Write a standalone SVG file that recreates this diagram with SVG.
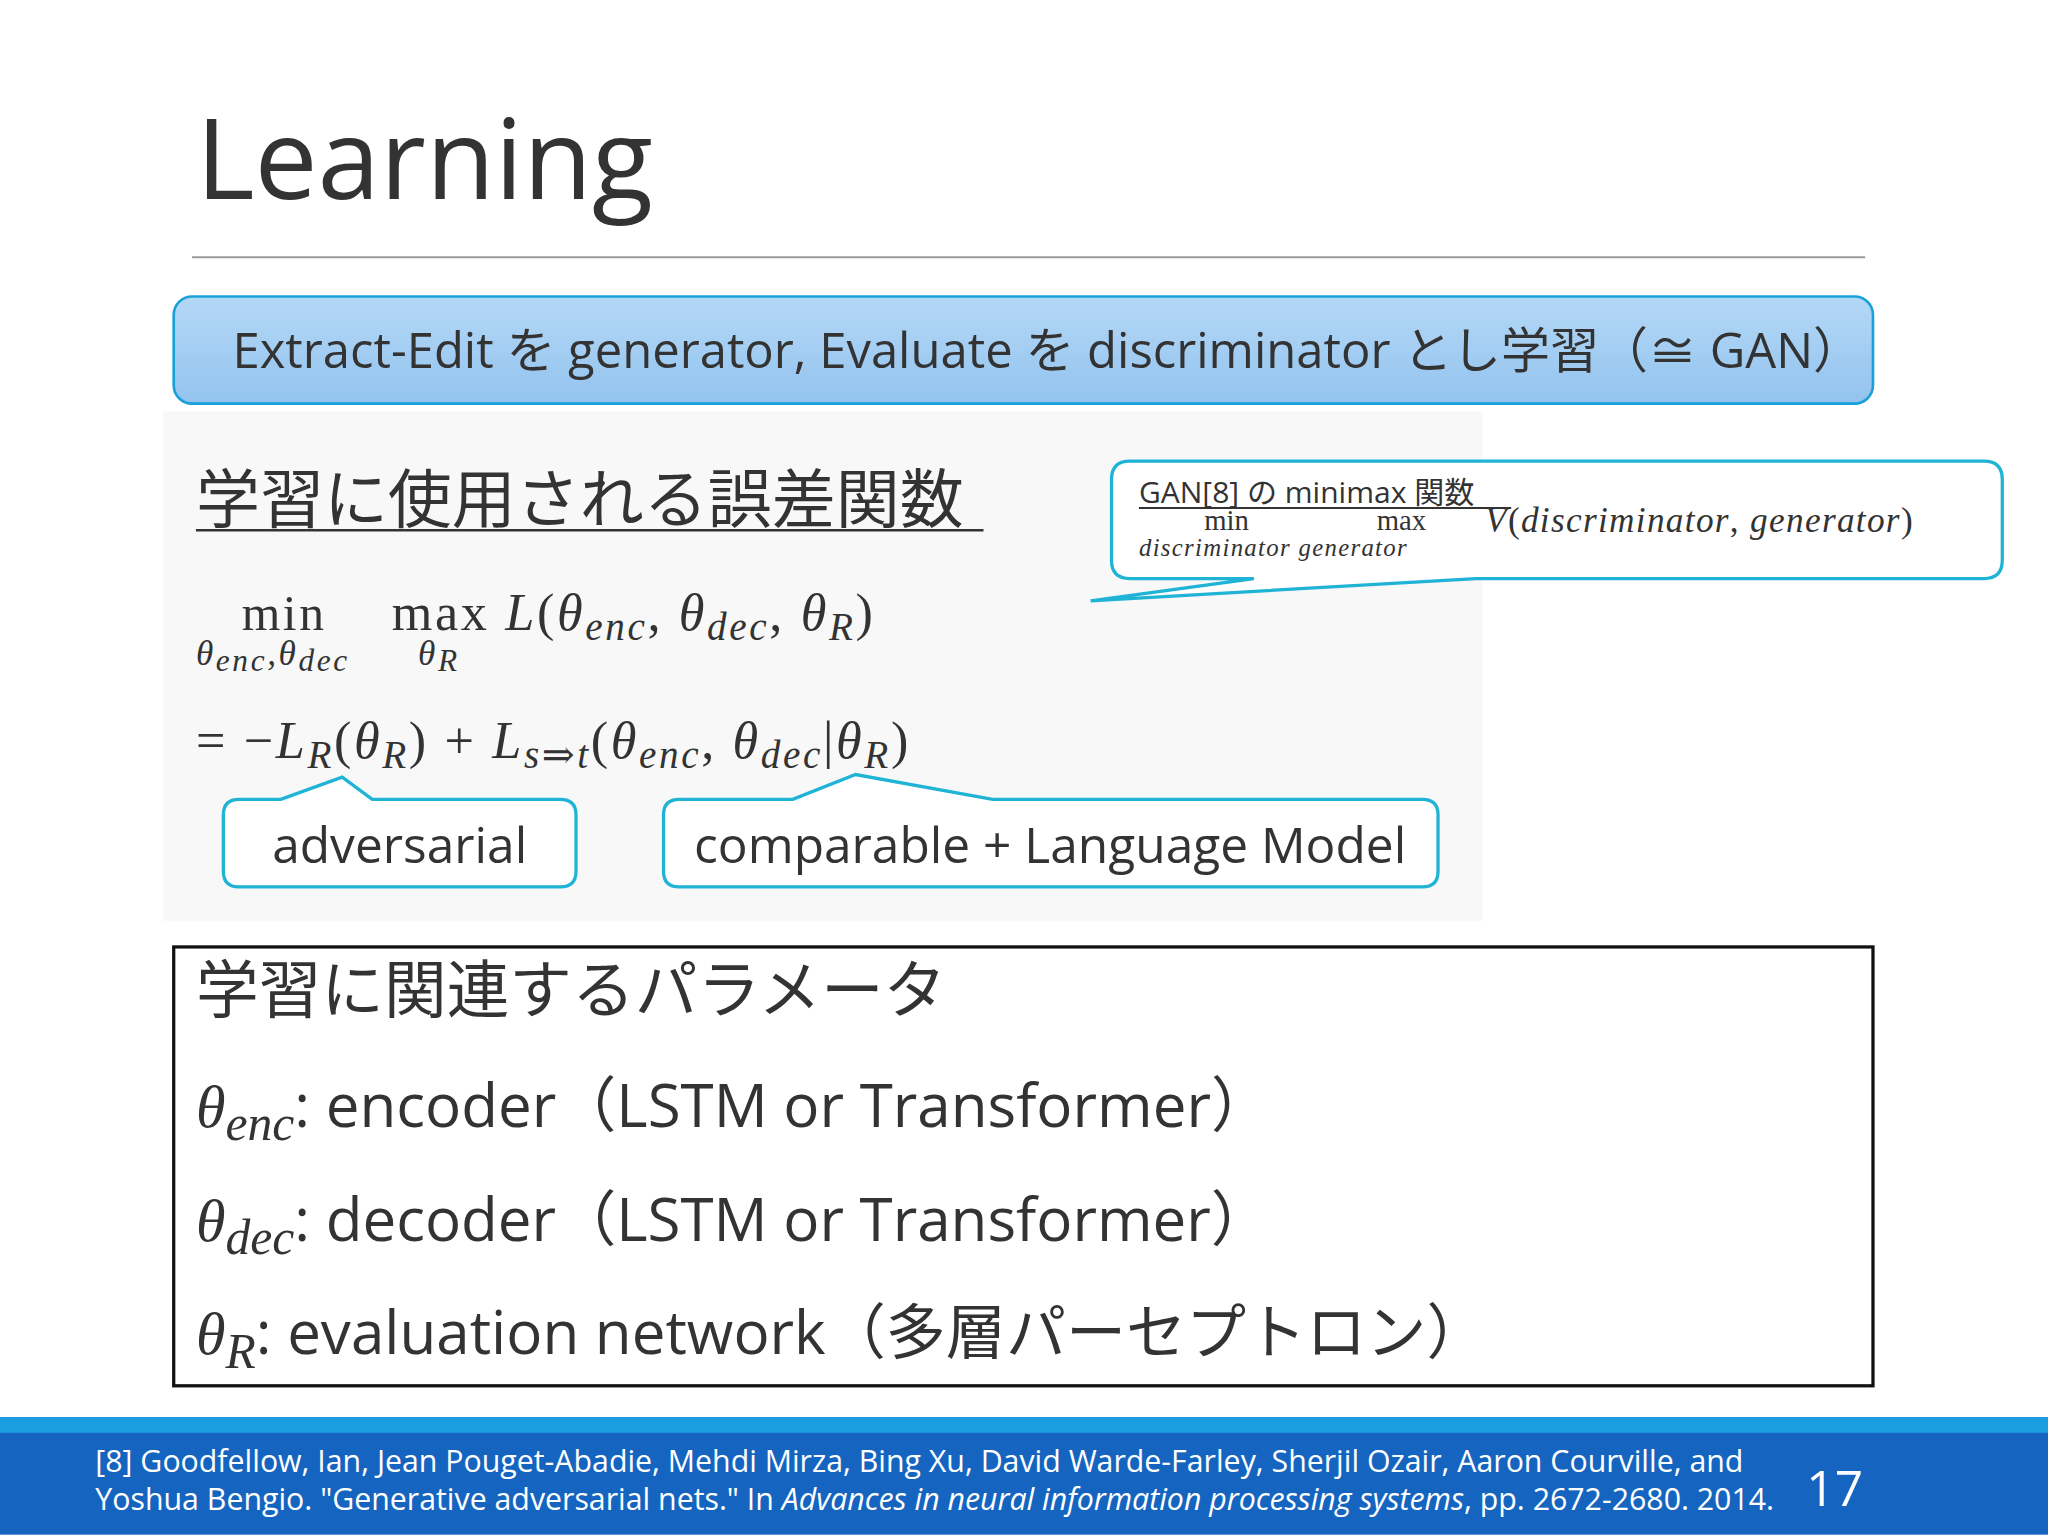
<svg xmlns="http://www.w3.org/2000/svg" width="2048" height="1536" viewBox="0 0 2048 1536">
<style>
.s{font-family:"Open Sans","Noto Sans CJK JP",sans-serif;fill:#333}
.m{font-family:"Liberation Serif","DejaVu Serif",serif;fill:#333}
.i{font-style:italic}
.co{fill:#fff;stroke:#1fb3d6;stroke-width:2.5}
.f{font-family:"Open Sans","Noto Sans CJK JP",sans-serif;fill:#fff}
</style>
<defs><linearGradient id="g" x1="0" y1="0" x2="0" y2="1"><stop offset="0" stop-color="#b4d8f6"/><stop offset="1" stop-color="#93c3ef"/></linearGradient></defs>
<rect width="2048" height="1536" fill="#fff"/>
<g transform="scale(1.30612)">
<rect x="125" y="315" width="1010" height="390" fill="#f8f8f8"/>
<g id="title"><text class="s" x="150" y="152" font-size="86" fill="#404040">Learning</text>
<line x1="147" y1="197" x2="1428" y2="197" stroke="#999" stroke-width="1.5"/></g>
<g id="banner"><rect x="133" y="227" width="1301" height="82" rx="14" fill="url(#g)" stroke="#1aa0d8" stroke-width="2"/>
<text class="s" x="178" y="282" font-size="37.5">Extract-Edit を generator, Evaluate を discriminator とし学習（≅ GAN）</text></g>
<g id="heading"><text class="s" x="150" y="400" font-size="49">学習に使用される誤差関数</text>
<line x1="150" y1="406" x2="753" y2="406" stroke="#333" stroke-width="2"/></g>
<g id="formula" letter-spacing="2">
<text class="m" x="185" y="482" font-size="38">min</text>
<text class="m i" x="150" y="509" font-size="27">θ<tspan font-size="24" dy="5">enc</tspan><tspan dy="-5">,θ</tspan><tspan font-size="24" dy="5">dec</tspan></text>
<text class="m" x="300" y="482" font-size="40">max <tspan class="i">L</tspan>(<tspan class="i">θ</tspan><tspan class="i" font-size="30" dy="8">enc</tspan><tspan dy="-8">, </tspan><tspan class="i">θ</tspan><tspan class="i" font-size="30" dy="8">dec</tspan><tspan dy="-8">, </tspan><tspan class="i">θ</tspan><tspan class="i" font-size="30" dy="8">R</tspan><tspan dy="-8">)</tspan></text>
<text class="m i" x="320" y="509" font-size="27">θ<tspan font-size="24" dy="5">R</tspan></text>
<text class="m" x="150" y="580" font-size="40">= −<tspan class="i">L</tspan><tspan class="i" font-size="30" dy="8">R</tspan><tspan dy="-8">(</tspan><tspan class="i">θ</tspan><tspan class="i" font-size="30" dy="8">R</tspan><tspan dy="-8">) + </tspan><tspan class="i">L</tspan><tspan class="i" font-size="30" dy="8">s⇒t</tspan><tspan dy="-8">(</tspan><tspan class="i">θ</tspan><tspan class="i" font-size="30" dy="8">enc</tspan><tspan dy="-8">, </tspan><tspan class="i">θ</tspan><tspan class="i" font-size="30" dy="8">dec</tspan><tspan dy="-8">|</tspan><tspan class="i">θ</tspan><tspan class="i" font-size="30" dy="8">R</tspan><tspan dy="-8">)</tspan></text>
</g>
<g id="callout-gan">
<path class="co" d="M865,353 H1519 Q1533,353 1533,367 V429 Q1533,443 1519,443 H1130 L835,460 L960,443 H865 Q851,443 851,429 V367 Q851,353 865,353 Z"/>
<text class="s" x="872" y="385" font-size="23">GAN[8] の minimax 関数</text>
<line x1="872" y1="389" x2="1157" y2="389" stroke="#333" stroke-width="1.5"/>
<text class="m" x="922" y="406" font-size="22">min</text>
<text class="m" x="1054" y="406" font-size="22">max</text>
<text class="m i" x="872" y="426" font-size="19" letter-spacing="1">discriminator  generator</text>
<text class="m" x="1137" y="407" font-size="27" letter-spacing="1"><tspan class="i">V</tspan>(<tspan class="i">discriminator</tspan>, <tspan class="i">generator</tspan>)</text>
</g>
<g id="adversarial">
<path class="co" d="M183,612 H215 L262,595 L285,612 H429 Q441,612 441,624 V667 Q441,679 429,679 H183 Q171,679 171,667 V624 Q171,612 183,612 Z"/>
<text class="s" x="306" y="661" font-size="38" text-anchor="middle">adversarial</text></g>
<g id="comparable">
<path class="co" d="M520,612 H607 L655,593 L760,612 H1089 Q1101,612 1101,624 V667 Q1101,679 1089,679 H520 Q508,679 508,667 V624 Q508,612 520,612 Z"/>
<text class="s" x="804" y="661" font-size="38" text-anchor="middle">comparable + Language Model</text></g>
<g id="params">
<rect x="133" y="725" width="1301" height="336" fill="#fff" stroke="#111" stroke-width="2.5"/>
<text class="s" x="150" y="775" font-size="48">学習に関連するパラメータ</text>
<text class="s" x="150" y="863" font-size="46"><tspan class="m i">θ</tspan><tspan class="m i" font-size="38" dy="10">enc</tspan><tspan dy="-10">: encoder（LSTM or Transformer）</tspan></text>
<text class="s" x="150" y="950" font-size="46"><tspan class="m i">θ</tspan><tspan class="m i" font-size="38" dy="10">dec</tspan><tspan dy="-10">: decoder（LSTM or Transformer）</tspan></text>
<text class="s" x="150" y="1037" font-size="46"><tspan class="m i">θ</tspan><tspan class="m i" font-size="38" dy="10">R</tspan><tspan dy="-10">: evaluation network（多層パーセプトロン）</tspan></text>
</g>
<g id="footer">
<rect x="0" y="1085" width="1568" height="90" fill="#1565c0"/>
<rect x="0" y="1085" width="1568" height="12" fill="#1a9ee0"/>
<text class="f" x="73" y="1127" font-size="23.2">[8] Goodfellow, Ian, Jean Pouget-Abadie, Mehdi Mirza, Bing Xu, David Warde-Farley, Sherjil Ozair, Aaron Courville, and</text>
<text class="f" x="73" y="1156" font-size="23.2">Yoshua Bengio. "Generative adversarial nets." In <tspan font-style="italic">Advances in neural information processing systems</tspan>, pp. 2672-2680. 2014.</text>
<text class="f" x="1383" y="1153" font-size="38">17</text>
</g>
</g>
</svg>
